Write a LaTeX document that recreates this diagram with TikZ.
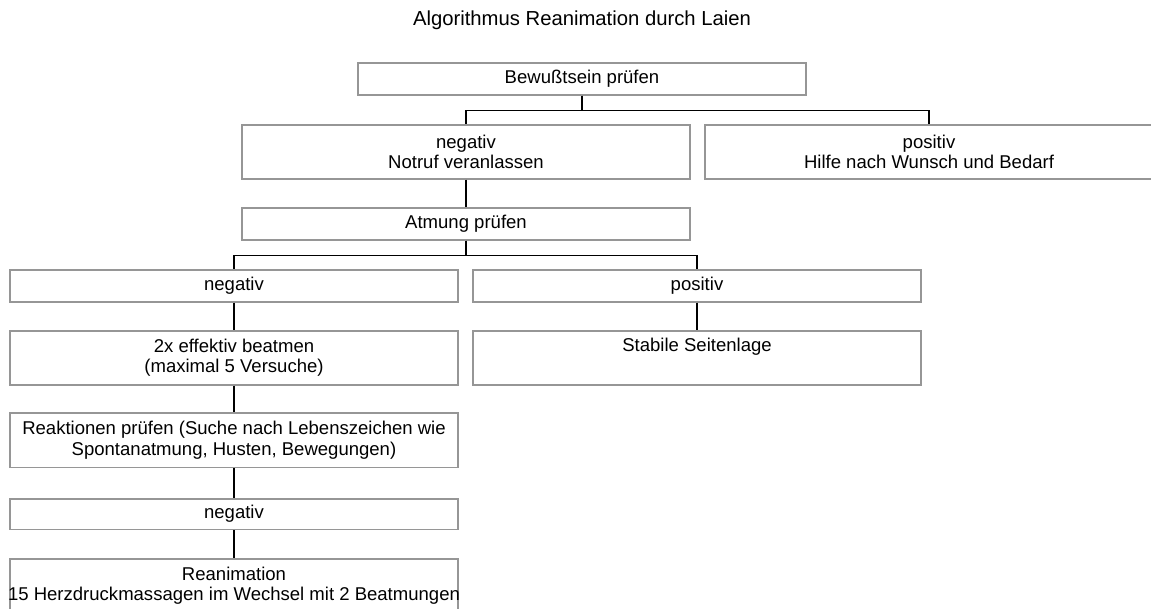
\documentclass[tikz,border=0pt]{standalone}
\usepackage{fontspec}
\setmainfont{Liberation Sans}
\usepackage{tikz}
\usetikzlibrary{positioning,calc}
\definecolor{boxgray}{RGB}{150,150,150}

\begin{document}
\begin{tikzpicture}[x=0.75pt, y=-0.75pt,
		stepbox/.style={draw=boxgray, line width=1.3pt, anchor=north, align=center, inner sep=0pt,
			minimum width=336pt, minimum height=24pt, font=\fontsize{13.9pt}{15.4pt}\selectfont},
		tallbox/.style={stepbox, minimum height=40.5pt},
		link/.style={draw=black, line width=0.9pt}]
		% Rescue algorithm, tree of boxes
		\useasboundingbox (0,0) rectangle (1151,609);
		\node[anchor=base, font=\fontsize{15.2pt}{17pt}\selectfont] (title) at (582,26) {Algorithmus Reanimation durch Laien};
		
		\node[stepbox] (bew) at (582,62) {Bewußtsein prüfen};
		\node[tallbox] (neg1) at (466,124) {negativ\\Notruf veranlassen};
		\node[tallbox] (pos1) at (929,124) {positiv\\Hilfe nach Wunsch und Bedarf};
		\node[stepbox] (atm) at (466,207) {Atmung prüfen};
		
		\node[stepbox] (neg2) at (234,269) {negativ};
		\node[stepbox] (pos2) at (697,269) {positiv};
		\node[tallbox] (beat) at (234,330) {2x effektiv beatmen\\(maximal 5 Versuche)};
		\node[tallbox] (stab) at (697,330) {Stabile Seitenlage\\\strut};
		\node[tallbox, minimum height=41pt] (reak) at (234,412) {Reaktionen prüfen (Suche nach Lebenszeichen wie\\Spontanatmung, Husten, Bewegungen)};
		\node[stepbox, minimum height=23pt] (neg3) at (234,498) {negativ};
		\node[tallbox] (rean) at (234,558) {Reanimation\\\makebox[0pt]{15 Herzdruckmassagen im Wechsel mit 2 Beatmungen}};
		
		\draw[link] (bew.south) -- ++(0,15) -| (neg1.north);
		\draw[link] (bew.south) -- ++(0,15) -| (pos1.north);
		\draw[link] (neg1) -- (atm);
		\draw[link] (atm.south) -- ++(0,15) -| (neg2.north);
		\draw[link] (atm.south) -- ++(0,15) -| (pos2.north);
		\draw[link] (pos2) -- (stab);
		\draw[link] (neg2) -- (beat);
		\draw[link] (beat) -- (reak);
		\draw[link] (reak) -- (neg3);
		\draw[link] (neg3) -- (rean);
	\end{tikzpicture}
\end{document}
